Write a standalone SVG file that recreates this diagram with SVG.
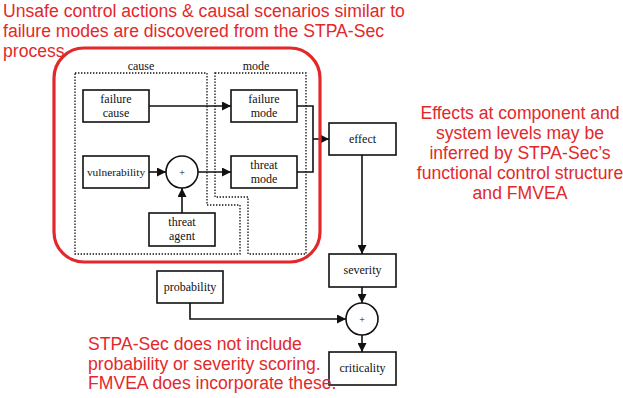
<svg xmlns="http://www.w3.org/2000/svg" width="623" height="398" viewBox="0 0 623 398">
<style>
.box{fill:#fff;stroke:#111;stroke-width:1.6}
.lbl{font-family:"Liberation Serif","Times New Roman",serif;font-size:12px;fill:#111;text-anchor:middle}
.dot{fill:none;stroke:#111;stroke-width:1.3;stroke-dasharray:1.4 1.6}
.con{fill:none;stroke:#111;stroke-width:1.6}
.red{font-family:"Liberation Sans",Arial,sans-serif;font-size:17.6px;fill:#e3282b}
</style>
<defs>
<marker id="ah" viewBox="0 0 10 10" refX="10" refY="5" markerWidth="9" markerHeight="9" markerUnits="userSpaceOnUse" orient="auto">
<path d="M0,0 L10,5 L0,10 Z" fill="#111"/>
</marker>
</defs>
<rect width="623" height="398" fill="#fff"/>

<g id="regions">
<path class="dot" d="M75,73 H207 V205 H240 V254 H75 Z"/>
<path class="dot" d="M215,73 H306 V254 H248 V197 H215 Z"/>
<text class="lbl" x="141" y="70">cause</text>
<text class="lbl" x="256" y="70">mode</text>
</g>

<g id="connectors">
<path class="con" d="M149,106 H231" marker-end="url(#ah)"/>
<path class="con" d="M297,106 H313 V172 H297"/>
<path class="con" d="M313,139 H329" marker-end="url(#ah)"/>
<path class="con" d="M149,172 H166" marker-end="url(#ah)"/>
<path class="con" d="M198,172 H231" marker-end="url(#ah)"/>
<path class="con" d="M182,213 V188" marker-end="url(#ah)"/>
<path class="con" d="M362,155 V254" marker-end="url(#ah)"/>
<path class="con" d="M362,287 V303" marker-end="url(#ah)"/>
<path class="con" d="M190,303 V319 H346" marker-end="url(#ah)"/>
<path class="con" d="M362,335 V352" marker-end="url(#ah)"/>
</g>

<g id="failure-cause">
<rect class="box" x="83" y="90" width="66" height="32"/>
<text class="lbl" x="116" y="103">failure</text>
<text class="lbl" x="116" y="117">cause</text>
</g>
<g id="failure-mode">
<rect class="box" x="231" y="90" width="66" height="32"/>
<text class="lbl" x="264" y="103">failure</text>
<text class="lbl" x="264" y="117">mode</text>
</g>
<g id="vulnerability">
<rect class="box" x="83" y="156" width="66" height="32"/>
<text class="lbl" x="116" y="176" style="font-size:11.4px">vulnerability</text>
</g>
<g id="sum1">
<circle class="box" cx="182" cy="172" r="16"/>
<text class="lbl" x="182" y="176" style="font-size:10px">+</text>
</g>
<g id="threat-mode">
<rect class="box" x="231" y="156" width="66" height="32"/>
<text class="lbl" x="264" y="169">threat</text>
<text class="lbl" x="264" y="183">mode</text>
</g>
<g id="threat-agent">
<rect class="box" x="149" y="213" width="66" height="33"/>
<text class="lbl" x="182" y="226">threat</text>
<text class="lbl" x="182" y="240">agent</text>
</g>
<g id="effect">
<rect class="box" x="329" y="123" width="67" height="32"/>
<text class="lbl" x="362.5" y="143">effect</text>
</g>
<g id="severity">
<rect class="box" x="329" y="254" width="67" height="33"/>
<text class="lbl" x="362.5" y="274">severity</text>
</g>
<g id="probability">
<rect class="box" x="157" y="271" width="66" height="32"/>
<text class="lbl" x="190" y="291">probability</text>
</g>
<g id="sum2">
<circle class="box" cx="362" cy="319" r="16"/>
<text class="lbl" x="362" y="323" style="font-size:10px">+</text>
</g>
<g id="criticality">
<rect class="box" x="329" y="352" width="67" height="33"/>
<text class="lbl" x="362.5" y="372">criticality</text>
</g>

<g id="stpa-boundary">
<rect x="54" y="48" width="266" height="214" rx="30" ry="30" fill="none" stroke="#e3282b" stroke-width="3.2"/>
</g>

<g id="notes">
<text class="red" x="3" y="17">Unsafe control actions &amp; causal scenarios similar to</text>
<text class="red" x="3" y="37">failure modes are discovered from the STPA-Sec</text>
<text class="red" x="3" y="57">process</text>
<text class="red" x="520" y="119" text-anchor="middle">Effects at component and</text>
<text class="red" x="520" y="139" text-anchor="middle">system levels may be</text>
<text class="red" x="520" y="159" text-anchor="middle">inferred by STPA-Sec’s</text>
<text class="red" x="520" y="179" text-anchor="middle">functional control structure</text>
<text class="red" x="520" y="199" text-anchor="middle">and FMVEA</text>
<text class="red" x="88" y="350">STPA-Sec does not include</text>
<text class="red" x="88" y="370">probability or severity scoring.</text>
<text class="red" x="88" y="389">FMVEA does incorporate these.</text>
</g>
</svg>
